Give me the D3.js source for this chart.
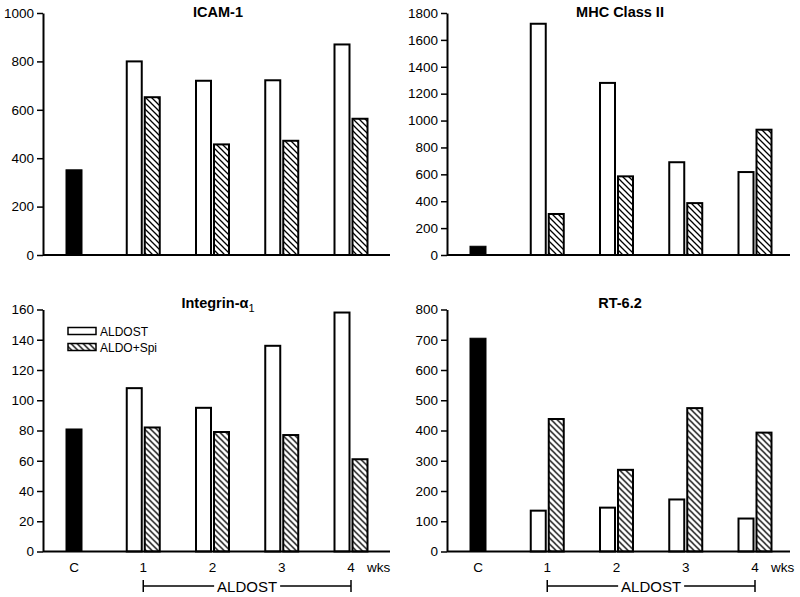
<!DOCTYPE html>
<html><head><meta charset="utf-8">
<script src="https://cdn.jsdelivr.net/npm/d3@7"></script>
<style>body{margin:0;background:#fff}svg{display:block}text{font-family:"Liberation Sans",Arial,sans-serif}</style>
</head><body><svg id="c" width="800" height="597"></svg>
<script>
const categories = ["C","1","2","3","4"];
const weeks = ["1","2","3","4"];
const seriesNames = ["ALDOST","ALDO+Spi"];
const icamControl = 352, icamAldost = [800,720,722,870], icamSpi = [652,457,472,563];
const mhcControl = 65, mhcAldost = [1720,1280,690,617], mhcSpi = [305,585,386,932];
const intControl = 81, intAldost = [108,95,136,158], intSpi = [82,79,77,61];
const rtControl = 705, rtAldost = [135,145,172,109], rtSpi = [438,270,474,393];
const ticksIcam = [0,200,400,600,800,1000];
const ticksMhc = [0,200,400,600,800,1000,1200,1400,1600,1800];
const ticksInt = [0,20,40,60,80,100,120,140,160];
const ticksRt = [0,100,200,300,400,500,600,700,800];

const svg = d3.select("#c");
const defs = svg.append("defs");
const P = 6;
const pat = defs.append("pattern").attr("id","hatch").attr("patternUnits","userSpaceOnUse")
  .attr("width",P).attr("height",P);
pat.append("rect").attr("width",P).attr("height",P).attr("fill","#fff");
pat.append("path").attr("d",`M-1,-1L${P+1},${P+1}M-1,${P-1}L1,${P+1}M${P-1},-1L${P+1},1`).attr("stroke","#000").attr("stroke-width",1.3);

const panels = [
  {title:"ICAM-1", ctrl:icamControl, a:icamAldost, s:icamSpi, ticks:ticksIcam, x:43, y:13, w:347, ty:4, legend:false, xlab:false},
  {title:"MHC Class II", ctrl:mhcControl, a:mhcAldost, s:mhcSpi, ticks:ticksMhc, x:447, y:13, w:343, ty:4, legend:false, xlab:false},
  {title:"Integrin-α", sub:"1", ctrl:intControl, a:intAldost, s:intSpi, ticks:ticksInt, x:43, y:309.5, w:347, ty:-1.5, legend:true, xlab:true},
  {title:"RT-6.2", ctrl:rtControl, a:rtAldost, s:rtSpi, ticks:ticksRt, x:447, y:309.5, w:343, ty:-1.5, legend:false, xlab:true}
];
const H = 242;

panels.forEach(p => {
  const g = svg.append("g").attr("transform",`translate(${p.x},${p.y})`);
  const y = d3.scaleLinear().domain([0, d3.max(p.ticks)]).range([H,0]);
  const x = d3.scalePoint().domain(categories).range([31, 308]);
  const bw = 15;
  g.append("rect").attr("x", x("C")-8).attr("width",16)
    .attr("y", y(p.ctrl)).attr("height", H - y(p.ctrl)).attr("fill","#000").attr("stroke","#000").attr("stroke-width",1);
  g.selectAll("rect.al").data(p.a).join("rect").attr("class","al")
    .attr("x",(d,i)=>x(weeks[i])-bw-1.5).attr("width",bw)
    .attr("y",d=>y(d)).attr("height",d=>H-y(d))
    .attr("fill","#fff").attr("stroke","#000").attr("stroke-width",2);
  g.selectAll("rect.sp").data(p.s).join("rect").attr("class","sp")
    .attr("x",(d,i)=>x(weeks[i])+1.5).attr("width",bw)
    .attr("y",d=>y(d)).attr("height",d=>H-y(d))
    .attr("fill","url(#hatch)").attr("stroke","#000").attr("stroke-width",2);
  g.append("line").attr("x1",0).attr("x2",p.w).attr("y1",H).attr("y2",H).attr("stroke","#000").attr("stroke-width",2);
  const ax = g.append("g").call(d3.axisLeft(y).tickValues(p.ticks).tickFormat(d3.format("d")).tickSize(6).tickSizeOuter(0).tickPadding(3));
  ax.select(".domain").attr("stroke-width",2);
  ax.selectAll(".tick line").attr("stroke-width",1.5);
  ax.selectAll("text").attr("font-size",13.5).attr("fill","#000");
  const t = g.append("text").attr("x", p.x===43 ? 175 : 173).attr("y",p.ty).attr("text-anchor","middle")
    .attr("font-size",14.5).attr("font-weight","bold").text(p.title);
  if (p.sub) t.append("tspan").attr("dy",4).attr("font-size",11).attr("font-weight","normal").text(p.sub);
  if (p.legend) {
    seriesNames.forEach((n,i)=>{
      g.append("rect").attr("x",25).attr("y",18+i*16).attr("width",28).attr("height",7)
        .attr("fill", i===0 ? "#fff" : "url(#hatch)").attr("stroke","#000").attr("stroke-width",1.5);
      g.append("text").attr("x",57).attr("y",26+i*16).attr("font-size",12).text(n);
    });
  }
  if (p.xlab) {
    g.selectAll("text.xl").data(categories).join("text").attr("class","xl")
      .attr("x",d=>x(d)).attr("y",H+20).attr("text-anchor","middle").attr("font-size",13.5).text(d=>d);
    g.append("text").attr("x",x("4")+16).attr("y",H+20).attr("font-size",13.5).text("wks");
    const x1 = x("1"), x2 = x("4"), by = H+34.5;
    g.append("text").attr("x",(x1+x2)/2).attr("y",by+5.5).attr("text-anchor","middle").attr("font-size",15).text("ALDOST");
    const tw = 62;
    g.append("line").attr("x1",x1).attr("x2",(x1+x2)/2-tw/2-2).attr("y1",by).attr("y2",by).attr("stroke","#000").attr("stroke-width",1.5);
    g.append("line").attr("x1",(x1+x2)/2+tw/2+2).attr("x2",x2).attr("y1",by).attr("y2",by).attr("stroke","#000").attr("stroke-width",1.5);
    [x1,x2].forEach(xx=>g.append("line").attr("x1",xx).attr("x2",xx).attr("y1",by-6).attr("y2",by+6).attr("stroke","#000").attr("stroke-width",1.5));
  }
});
</script></body></html>
